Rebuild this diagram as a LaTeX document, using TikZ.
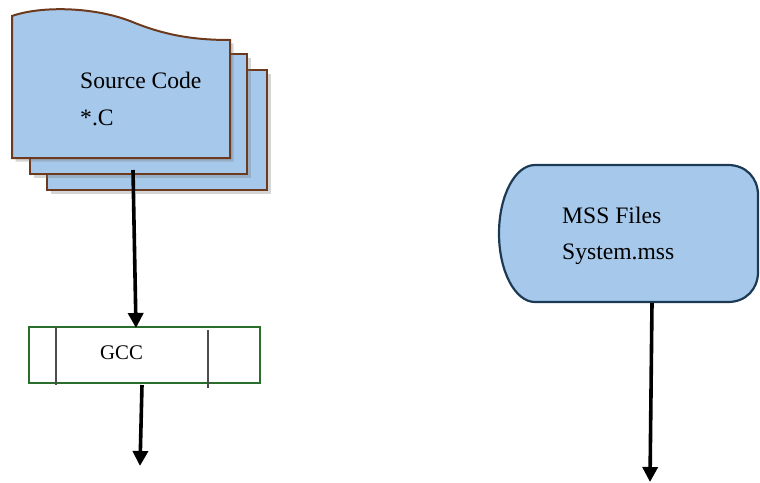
\documentclass[tikz,border=0pt]{standalone}
\usepackage{fontspec}
\setmainfont{Liberation Serif}
\usetikzlibrary{arrows.meta,shadows}
\definecolor{sheetblue}{HTML}{A6C8EA}
\definecolor{sheetbrown}{HTML}{6E3A1E}
\definecolor{boxgreen}{HTML}{2A6E2E}
\definecolor{navyline}{HTML}{1C3A54}
\tikzset{
  sheet/.style={fill=sheetblue,draw=sheetbrown,line width=2pt,
    drop shadow={shadow xshift=3.5pt,shadow yshift=-3.5pt,opacity=0.3,fill=black!55}},
  lbl/.style={anchor=base west,inner sep=0pt,font=\fontsize{23.6}{28}\selectfont},
  smalllbl/.style={anchor=base west,inner sep=0pt,font=\fontsize{20.8}{24}\selectfont},
  arr/.style={line width=3.6pt,-{Triangle[width=15pt,length=15pt]}},
}
\begin{document}
\begin{tikzpicture}[x=1pt,y=-1pt]
\useasboundingbox (0,0) rectangle (760,482);
% stacked document sheets
\draw[sheet] (47,70) rectangle (267,190);
\draw[sheet] (30,54) rectangle (247,174);
\draw[sheet] (12,158) -- (12,16) .. controls (40,6) and (95,6) .. (135,23)
  .. controls (170,37) and (200,40) .. (230,40) -- (230,158) -- cycle;
\node[lbl] (src1) at (80,88) {Source Code};
\node[lbl] (src2) at (80,125) {*.C};
% GCC predefined process
\node[draw=boxgreen,line width=2pt,minimum width=231pt,minimum height=56pt,inner sep=0pt] (gcc) at (144.5,355) {};
\coordinate (gl1) at (56,327);
\coordinate (gl2) at (56,385);
\coordinate (gr1) at (208,330);
\coordinate (gr2) at (208,388);
\draw[black!70,line width=1.3pt] (gl1) -- (gl2);
\draw[black!70,line width=1.3pt] (gr1) -- (gr2);
\node[smalllbl] (gcctext) at (100,359) {GCC};
% MSS terminal
\draw[fill=sheetblue,draw=navyline,line width=2.2pt]
  (535,165) -- (728,165) .. controls (746,165) and (758,178) .. (758,195)
  -- (758,272) .. controls (758,289) and (746,302) .. (728,302)
  -- (535,302) .. controls (515,302) and (499,271) .. (499,233.5)
  .. controls (499,196) and (515,165) .. (535,165) -- cycle;
\node[lbl] (mss1) at (562,223) {MSS Files};
\node[lbl] (mss2) at (562,259) {System.mss};
% connectors
\coordinate (a1s) at (133,170);
\coordinate (a1e) at (136,328);
\coordinate (a2s) at (142,385);
\coordinate (a2e) at (140,466);
\coordinate (a3s) at (652,303);
\coordinate (a3e) at (650,482);
\draw[arr] (a1s) -- (a1e);
\draw[arr] (a2s) -- (a2e);
\draw[arr] (a3s) -- (a3e);
\end{tikzpicture}
\end{document}
